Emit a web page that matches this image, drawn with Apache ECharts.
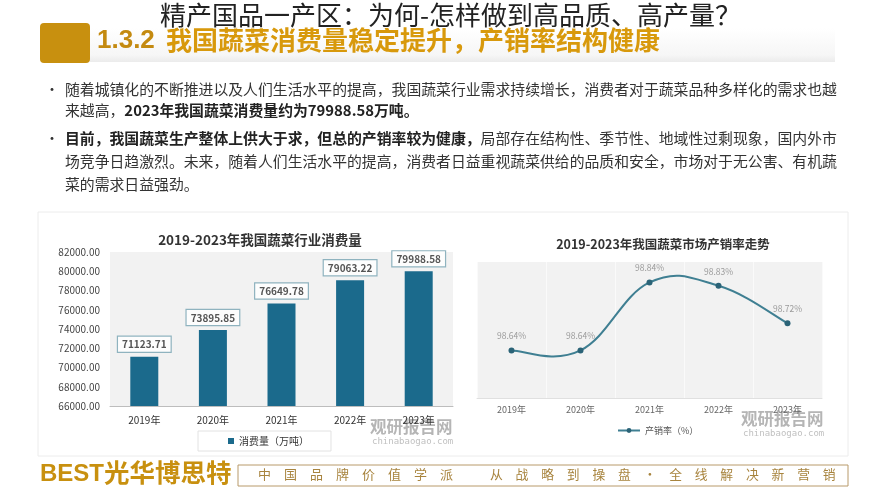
<!DOCTYPE html>
<html><head><meta charset="utf-8">
<script src="https://cdn.jsdelivr.net/npm/echarts@6/dist/echarts.min.js"></script>
<style>html,body{margin:0;padding:0;background:#fff;}#c{width:889px;height:500px;}</style>
</head><body><div id="c"></div>
<script>
const years = ['2019年','2020年','2021年','2022年','2023年'];
const consumption = [71123.71, 73895.85, 76649.78, 79063.22, 79988.58];
const salesRate = [98.64, 98.64, 98.84, 98.83, 98.72];
const barTitle = '2019-2023年我国蔬菜行业消费量';
const lineTitle = '2019-2023年我国蔬菜市场产销率走势';
const barName = '消费量（万吨）';
const lineName = '产销率（%）';

const F = 'Noto Sans CJK SC';
const chart = echarts.init(document.getElementById('c'), null, {renderer:'canvas'});
const gold = '#c8900f';
const lineColor = '#3f7f92';
const txt = (x,y,text,style) => ({type:'text', x, y, style:Object.assign({text, fontFamily:F, fill:'#333', fontSize:14.85}, style)});
const rich = {n:{fontSize:14.85,fontFamily:F,fill:'#333'},b:{fontSize:14.85,fontFamily:F,fill:'#222',fontWeight:'bold'}};

// Catmull-Rom style smooth curve drawn through the axis scale
function renderCurve(params, api){
  if (params.dataIndex !== 0) return null;
  const pts = salesRate.map((v,i)=>api.coord([i, v]));
  const k = 0.2;
  const children = [];
  for (let i=0;i<pts.length-1;i++){
    const p0 = pts[Math.max(i-1,0)], p1 = pts[i], p2 = pts[i+1], p3 = pts[Math.min(i+2,pts.length-1)];
    children.push({type:'bezierCurve', shape:{
      x1:p1[0], y1:p1[1], x2:p2[0], y2:p2[1],
      cpx1:p1[0]+(p2[0]-p0[0])*k, cpy1:p1[1]+(p2[1]-p0[1])*k,
      cpx2:p2[0]-(p3[0]-p1[0])*k, cpy2:p2[1]-(p3[1]-p1[1])*k},
      style:{stroke:lineColor, lineWidth:2, fill:null}});
  }
  return {type:'group', children};
}

chart.setOption({
  backgroundColor:'#fff',
  animation:false,
  textStyle:{fontFamily:F},
  graphic:[
    {type:'rect', shape:{x:90,y:28,width:745,height:34}, style:{fill:new echarts.graphic.LinearGradient(0,0,0,1,[{offset:0,color:'#ffffff'},{offset:0.8,color:'#f6f6f6'},{offset:1,color:'#ebebeb'}])}},
    {type:'rect', shape:{x:40,y:23,width:50,height:40,r:4}, style:{fill:gold}},
    txt(97,28,'1.3.2',{fill:'#c48a10',fontSize:26,fontWeight:'bold',fontFamily:'Liberation Sans'}),
    txt(166,27,'我国蔬菜消费量稳定提升，产销率结构健康',{fill:'#d8990c',fontSize:26,fontWeight:'bold'}),
    txt(160,2,'精产国品一产区：为何-怎样做到高品质、高产量？',{fill:'#222',fontSize:26,stroke:'#fff',lineWidth:2}),
    txt(45,82,'•',{fontSize:14}),
    txt(65,82,'随着城镇化的不断推进以及人们生活水平的提高，我国蔬菜行业需求持续增长，消费者对于蔬菜品种多样化的需求也越'),
    txt(65,103,'{n|来越高，}{b|2023年我国蔬菜消费量约为79988.58万吨。}',{rich}),
    txt(45,131,'•',{fontSize:14}),
    txt(65,131,'{b|目前，我国蔬菜生产整体上供大于求，但总的产销率较为健康，}{n|局部存在结构性、季节性、地域性过剩现象，国内外市}',{rich}),
    txt(65,154,'场竞争日趋激烈。未来，随着人们生活水平的提高，消费者日益重视蔬菜供给的品质和安全，市场对于无公害、有机蔬'),
    txt(65,177,'菜的需求日益强劲。'),
    {type:'rect', z:-10, shape:{x:38,y:212,width:810,height:244}, style:{fill:'#fff',stroke:'#ececec',lineWidth:1}},
    txt(370,418,'观研报告网',{fill:'#b5b5b5',fontSize:16.5,fontWeight:'bold'}),
    txt(372,437,'chinabaogao.com',{fill:'#c0c0c0',fontSize:9,fontFamily:'DejaVu Sans Mono'}),
    txt(741,410,'观研报告网',{fill:'#b5b5b5',fontSize:16.5,fontWeight:'bold'}),
    txt(743,429,'chinabaogao.com',{fill:'#c0c0c0',fontSize:9,fontFamily:'DejaVu Sans Mono'}),
    txt(40,462,'BEST',{fill:gold,fontSize:24,fontWeight:'bold',fontFamily:'Liberation Sans'}),
    txt(104,460,'光华博思特',{fill:gold,fontSize:25.5,fontWeight:'bold'}),
    {type:'rect', shape:{x:238,y:465,width:610,height:21}, style:{fill:'#fff',stroke:'#b89a6a',lineWidth:1}},
    txt(258,468,'中　国　品　牌　价　值　学　派',{fill:'#a8843e',fontSize:13}),
    txt(490,468,'从　战　略　到　操　盘　·　全　线　解　决　新　营　销',{fill:'#a8843e',fontSize:12.8})
  ],
  title:[
    {text:barTitle, left:255, top:228, textAlign:'center', textStyle:{fontSize:13.5,fontWeight:'bold',color:'#333',fontFamily:F}},
    {text:lineTitle, left:658, top:233, textAlign:'center', textStyle:{fontSize:12.5,fontWeight:'bold',color:'#333',fontFamily:F}}
  ],
  legend:[
    {data:[barName], left:198, top:431, width:132, itemWidth:6, itemHeight:6, icon:'rect', padding:[5,22,5,30], borderColor:'#e2e2e2', borderWidth:1, backgroundColor:'#fff', textStyle:{fontSize:10,color:'#333'}},
    {data:[lineName], left:612, top:421, itemWidth:22, itemHeight:6, lineStyle:{color:lineColor, width:2, opacity:1}, textStyle:{fontSize:9,color:'#555'}}
  ],
  grid:[
    {left:110, top:252, width:343, height:154, show:true, backgroundColor:'#f2f2f2', borderWidth:0},
    {left:477, top:262, width:345, height:136, show:true, backgroundColor:'#f2f2f2', borderWidth:0}
  ],
  xAxis:[
    {type:'category', gridIndex:0, data:years, axisTick:{show:false}, axisLine:{lineStyle:{color:'#bdbdbd'}}, axisLabel:{fontSize:10,color:'#333',margin:9}},
    {type:'category', gridIndex:1, data:years, axisTick:{show:false}, axisLine:{lineStyle:{color:'#e0e0e0'}}, axisLabel:{fontSize:9,color:'#666',margin:7}, splitLine:{show:true, interval:0, lineStyle:{color:'#fafafa',width:1}}}
  ],
  yAxis:[
    {type:'value', gridIndex:0, min:66000, max:82000, interval:2000, axisLine:{show:false}, axisTick:{show:false}, splitLine:{show:false}, axisLabel:{fontSize:10,color:'#444',margin:10,formatter:v=>v.toFixed(2)}},
    {type:'value', gridIndex:1, min:98.5, max:98.9, show:false, splitLine:{show:false}}
  ],
  series:[
    {name:barName, type:'bar', xAxisIndex:0, yAxisIndex:0, data:consumption, barWidth:28, itemStyle:{color:'#1b6a8c'},
     label:{show:true, position:'top', distance:5, fontSize:10, fontWeight:'bold', color:'#555', backgroundColor:'#fdfdfd', borderColor:'#8fb3bf', borderWidth:1.2, padding:[3,4,2,4], formatter:p=>p.value.toFixed(2)}},
    {name:'curve', type:'custom', xAxisIndex:1, yAxisIndex:1, data:salesRate.map((v,i)=>[i,v]), encode:{x:0,y:1}, renderItem:renderCurve, z:2, silent:true},
    {name:lineName, type:'line', xAxisIndex:1, yAxisIndex:1, data:salesRate, symbol:'circle', symbolSize:6, z:3,
     lineStyle:{color:lineColor,width:2,opacity:0}, itemStyle:{color:'#2b6377'},
     label:{show:true, position:'top', distance:7, fontSize:8.5, color:'#9a9a9a', formatter:p=>p.value.toFixed(2)+'%'}}
  ]
});
</script></body></html>
